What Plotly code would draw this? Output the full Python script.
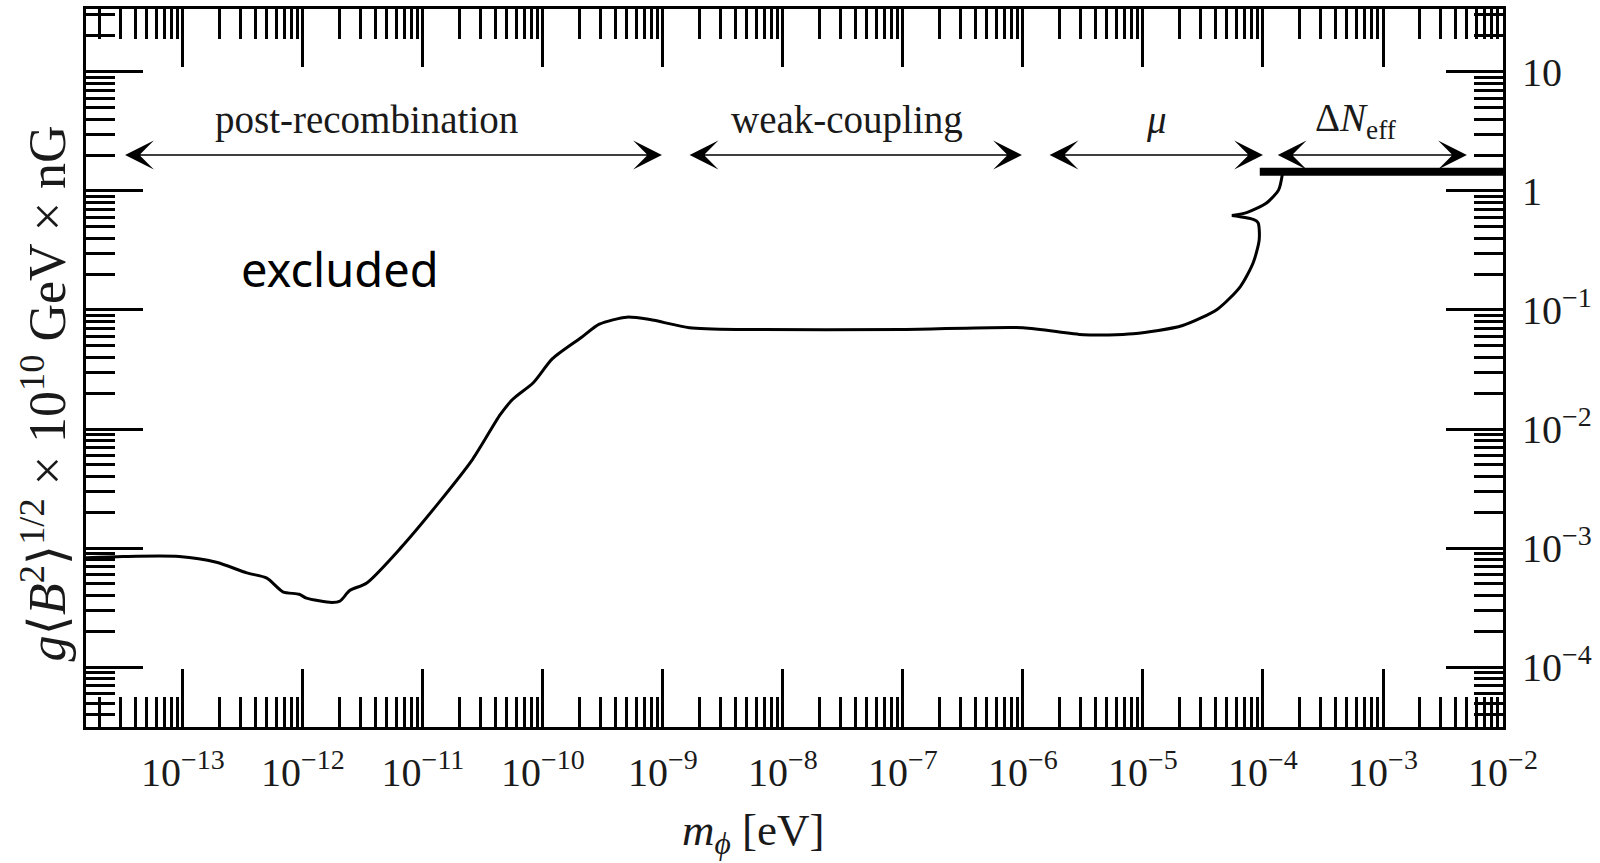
import math
import plotly.graph_objects as go

# ---------------- data ----------------
# boundary curve: mass m_phi [eV] and coupling limit g<B^2>^1/2 x 1e10 GeV x nG
m_curve = [1.55e-14, 3.16e-14, 9.3e-14, 1.9e-13, 3.4e-13, 5.0e-13, 6.8e-13, 9.3e-13,
           1.07e-12, 1.74e-12, 2.04e-12, 2.45e-12, 3.4e-12, 6.5e-12, 1.35e-11, 2.6e-11,
           4.4e-11, 5.6e-11, 8.3e-11, 1.2e-10, 2.1e-10, 2.95e-10, 5.0e-10, 7.8e-10,
           1.66e-9, 4.7e-9, 1.0e-7, 1.0e-6, 3.2e-6, 8.3e-6, 2.14e-5, 4.2e-5, 6.5e-5,
           8.3e-5, 9.3e-5, 9.1e-5, 8.3e-5, 5.5e-5]
g_curve = [8.3e-4, 8.5e-4, 8.5e-4, 7.6e-4, 6.2e-4, 5.6e-4, 4.3e-4, 4.1e-4,
           3.8e-4, 3.5e-4, 3.6e-4, 4.4e-4, 5.1e-4, 1.0e-3, 2.4e-3, 5.6e-3,
           1.32e-2, 1.78e-2, 2.45e-2, 3.9e-2, 5.9e-2, 7.6e-2, 8.7e-2, 8.3e-2,
           7.1e-2, 6.85e-2, 6.85e-2, 7.1e-2, 6.2e-2, 6.3e-2, 7.4e-2, 0.102, 0.158,
           0.25, 0.39, 0.54, 0.575, 0.62]
# short hook from the cusp up to the Delta N_eff bound
m_hook = [5.5e-5, 7.4e-5, 1.07e-4, 1.35e-4, 1.45e-4]
g_hook = [0.62, 0.66, 0.79, 1.02, 1.38]

# Delta N_eff bound (horizontal)
m_neff = [9.4e-5, 1.0e-2]
g_neff = [1.45, 1.45]

# regions (mass ranges) and their labels
region_labels = ["post-recombination", "weak-coupling", "<i>μ</i>", "Δ<i>N</i><sub>eff</sub>"]
region_lo = [3.2e-14, 1.62e-9, 1.62e-6, 1.29e-4]
region_hi = [9.8e-10, 9.8e-7, 1.0e-4, 5.0e-3]
region_label_m = [3.4e-12, 3.4e-8, 1.29e-5, 6.0e-4]
arrow_g = 2.0
label_g = 3.9

x_major = [1e-13, 1e-12, 1e-11, 1e-10, 1e-9, 1e-8, 1e-7, 1e-6, 1e-5, 1e-4, 1e-3, 1e-2]
x_major_text = ["10<sup>−13</sup>", "10<sup>−12</sup>", "10<sup>−11</sup>", "10<sup>−10</sup>",
                "10<sup>−9</sup>", "10<sup>−8</sup>", "10<sup>−7</sup>", "10<sup>−6</sup>",
                "10<sup>−5</sup>", "10<sup>−4</sup>", "10<sup>−3</sup>", "10<sup>−2</sup>"]
y_major = [1e-4, 1e-3, 1e-2, 1e-1, 1, 10]
y_major_text = ["10<sup>−4</sup>", "10<sup>−3</sup>", "10<sup>−2</sup>", "10<sup>−1</sup>", "1", "10"]

x_decades = list(range(-14, -2))
y_decades = list(range(-5, 2))
mantissas = [2, 3, 4, 5, 6, 7, 8, 9]

x_minor = [k * 10.0 ** d for d in x_decades for k in mantissas]
y_minor = [k * 10.0 ** d for d in y_decades for k in mantissas]

# ---------------- figure ----------------
SERIF = "Liberation Serif, DejaVu Serif, serif"
TXT = "#1a1a1a"

fig = go.Figure()
fig.add_trace(go.Scatter(x=m_curve, y=g_curve, mode="lines",
                         line=dict(color="black", width=3, shape="spline", smoothing=0.7),
                         showlegend=False))
fig.add_trace(go.Scatter(x=m_hook, y=g_hook, mode="lines",
                         line=dict(color="black", width=3, shape="spline", smoothing=0.7),
                         showlegend=False))
fig.add_trace(go.Scatter(x=m_neff, y=g_neff, mode="lines",
                         line=dict(color="black", width=8), showlegend=False))

annotations = []
for lab, lo, hi, lm in zip(region_labels, region_lo, region_hi, region_label_m):
    annotations.append(dict(
        x=math.log10(hi), y=math.log10(arrow_g), ax=math.log10(lo), ay=math.log10(arrow_g),
        xref="x", yref="y", axref="x", ayref="y", text="", showarrow=True,
        arrowhead=3, startarrowhead=3, arrowside="end+start", arrowsize=3.2,
        startarrowsize=3.2, arrowwidth=1.5, arrowcolor="black", standoff=0, startstandoff=0))
    annotations.append(dict(
        x=math.log10(lm), y=math.log10(label_g), xref="x", yref="y", text=lab,
        showarrow=False, font=dict(family=SERIF, size=39, color=TXT),
        xanchor="center", yanchor="middle"))

annotations.append(dict(
    x=math.log10(2.05e-12), y=math.log10(0.22), xref="x", yref="y", text="excluded",
    showarrow=False, font=dict(family="Noto Sans, sans-serif", size=47, color="black"),
    xanchor="center", yanchor="middle"))

# axis titles
annotations.append(dict(
    x=(753 - 86) / 1417, y=-(833 - 727) / 721, xref="paper", yref="paper",
    text="<i>m</i><sub><i>ϕ</i></sub> [eV]", showarrow=False,
    font=dict(family=SERIF, size=45, color=TXT), xanchor="center", yanchor="middle"))
annotations.append(dict(
    x=-(86 - 44) / 1417, y=(727 - 392) / 721, xref="paper", yref="paper",
    text="<i>g</i>⟨<i>B</i><sup>2</sup>⟩<sup>1/2</sup> × 10<sup>10</sup> GeV × nG",
    showarrow=False, textangle=-90,
    font=dict(family=SERIF, size=52, color=TXT), xanchor="center", yanchor="middle"))

fig.update_layout(
    width=1600, height=863,
    margin=dict(l=86, r=97, t=6, b=136),
    paper_bgcolor="white", plot_bgcolor="white",
    annotations=annotations,
    showlegend=False,
)

fig.update_xaxes(
    type="log", range=[-13.808, -2.0],
    tickmode="array", tickvals=x_major, ticktext=x_major_text,
    ticks="inside", ticklen=58, tickwidth=2.5, tickcolor="black",
    minor=dict(tickmode="array", tickvals=x_minor, ticks="inside", ticklen=30,
               tickwidth=2.5, tickcolor="black", showgrid=False),
    showline=True, linewidth=3, linecolor="black", mirror="allticks",
    showgrid=False, zeroline=False,
    tickfont=dict(family=SERIF, size=40, color=TXT),
    ticklabelstandoff=8,
)
fig.update_yaxes(
    type="log", range=[-4.502, 1.527], side="right",
    tickmode="array", tickvals=y_major, ticktext=y_major_text,
    ticks="inside", ticklen=57, tickwidth=2.5, tickcolor="black",
    minor=dict(tickmode="array", tickvals=y_minor, ticks="inside", ticklen=29,
               tickwidth=2.5, tickcolor="black", showgrid=False),
    showline=True, linewidth=3, linecolor="black", mirror="allticks",
    showgrid=False, zeroline=False,
    tickfont=dict(family=SERIF, size=40, color=TXT),
    ticklabelstandoff=8,
)

fig.write_html("out.html")
